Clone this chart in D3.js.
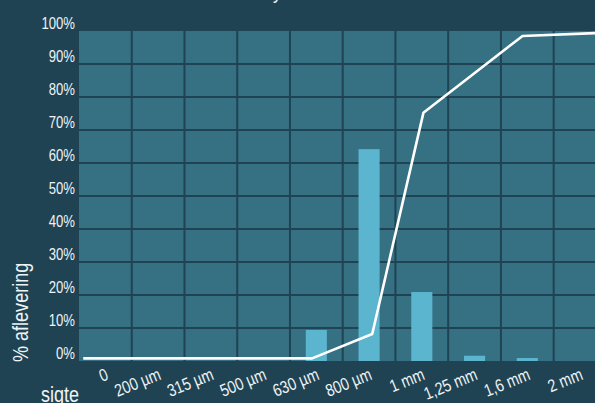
<!DOCTYPE html>
<html>
<head>
<meta charset="utf-8">
<script src="https://cdn.jsdelivr.net/npm/d3@7"></script>
<style>
body { margin: 0; background: #1f4353; overflow: hidden; }
svg { display: block; }
text { font-family: "Liberation Sans", Arial, sans-serif; fill: #eef3f5; }
</style>
</head>
<body>
<svg width="595" height="403"></svg>
<script>
// sieve sizes and the share retained on each sieve (%)
var sieves = ["0", "200 µm", "315 µm", "500 µm", "630 µm", "800 µm", "1 mm", "1,25 mm", "1,6 mm", "2 mm"];
var retained = [0, 0, 0, 0, 9.4, 64.2, 20.9, 1.6, 0.9, 0];

// cumulative passing curve, positions given in sieve-index units
var curvePos = [-0.42, 3.92, 5.06, 6.03, 7.91, 9.5];
var curveVal = [0.8, 0.8, 8.2, 75.2, 98.5, 99.5];

var yTicks = [0, 10, 20, 30, 40, 50, 60, 70, 80, 90, 100];

var sx = 0.82; // narrow the text horizontally

var svg = d3.select("svg"),
    margin = {top: 31, left: 79},
    width = 527.4,
    height = 330,
    g = svg.append("g").attr("transform", "translate(" + margin.left + "," + margin.top + ")");

var x = d3.scaleBand()
    .domain(sieves)
    .range([0, width]);

var xi = d3.scaleLinear()
    .domain([-0.5, sieves.length - 0.5])
    .range([0, width]);

var y = d3.scaleLinear()
    .domain([0, 100])
    .range([height, 0]);

var bw = x.bandwidth();

// plot background
g.append("rect")
    .attr("width", width)
    .attr("height", height)
    .attr("fill", "#367083");

// grid
g.selectAll(".hgrid")
    .data(yTicks.filter(function(d) { return d > 0 && d < 100; }))
  .enter().append("line")
    .attr("class", "hgrid")
    .attr("x1", 0).attr("x2", width)
    .attr("y1", function(d) { return y(d); })
    .attr("y2", function(d) { return y(d); })
    .attr("stroke", "#1f4353")
    .attr("stroke-width", 2);

g.selectAll(".vgrid")
    .data(sieves.slice(1))
  .enter().append("line")
    .attr("class", "vgrid")
    .attr("x1", function(d) { return x(d); })
    .attr("x2", function(d) { return x(d); })
    .attr("y1", 0).attr("y2", height)
    .attr("stroke", "#1f4353")
    .attr("stroke-width", 2);

// bars
g.selectAll(".bar")
    .data(retained)
  .enter().append("rect")
    .attr("class", "bar")
    .attr("x", function(d, i) { return x(sieves[i]) + bw * 0.3; })
    .attr("width", bw * 0.4)
    .attr("y", function(d) { return y(d); })
    .attr("height", function(d) { return height - y(d); })
    .attr("fill", "#5bb5cf");

// curve
var line = d3.line()
    .x(function(d, i) { return xi(curvePos[i]); })
    .y(function(d) { return y(d); });

g.append("path")
    .datum(curveVal)
    .attr("d", line)
    .attr("fill", "none")
    .attr("stroke", "#ffffff")
    .attr("stroke-width", 2.6)
    .attr("stroke-linejoin", "round");

// y axis
var yAxis = g.append("g")
    .call(d3.axisLeft(y).tickValues(yTicks).tickFormat(function(d) { return d + "%"; }).tickSize(0).tickPadding(4));
yAxis.select(".domain").remove();
yAxis.selectAll("text")
    .attr("x", 0)
    .attr("dy", 0)
    .attr("y", 0)
    .attr("transform", "translate(-4,-2.5) scale(" + sx + ",1)")
    .style("font-size", "16px")
    .style("fill", "#eef3f5");

// x axis
var xAxis = g.append("g")
    .attr("transform", "translate(0," + height + ")")
    .call(d3.axisBottom(x).tickSize(0));
xAxis.select(".domain").remove();
xAxis.selectAll("text")
    .attr("y", 0)
    .attr("dy", 0)
    .attr("text-anchor", "end")
    .attr("transform", "translate(4,18) rotate(-22) scale(" + sx + ",1)")
    .style("font-size", "17.5px")
    .style("fill", "#eef3f5");

// axis titles
svg.append("text")
    .attr("transform", "translate(27.5,362) rotate(-90) scale(" + sx + ",1)")
    .style("font-size", "22px")
    .text("% aflevering");

svg.append("text")
    .attr("transform", "translate(79,402) scale(" + sx + ",1)")
    .attr("text-anchor", "end")
    .style("font-size", "22px")
    .text("sigte");

// title (only its descender reaches into view)
svg.append("text")
    .attr("transform", "translate(237,-2) scale(" + sx + ",1)")
    .style("font-size", "22px")
    .text("Analyse");
</script>
</body>
</html>
